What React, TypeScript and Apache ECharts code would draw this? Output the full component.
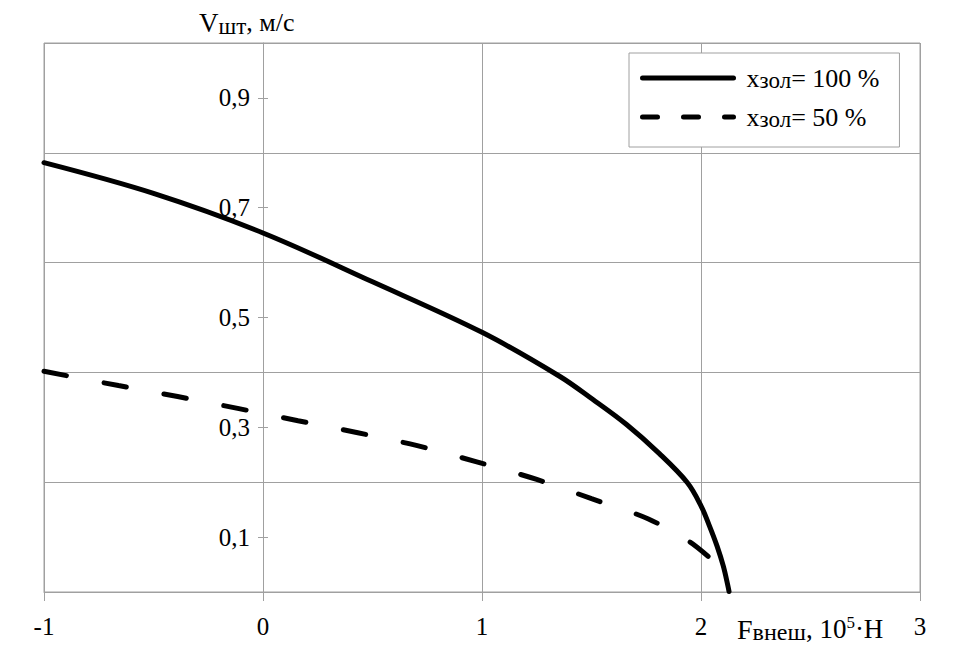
import React, { useEffect, useRef } from "react";
import * as echarts from "echarts";

// F (10^5 H) and V (m/s)
const solidF = [-1.0, -0.5, 0.0, 0.5, 1.0, 1.354, 1.505, 1.66, 1.81, 1.938, 2.0, 2.038, 2.073, 2.102, 2.123, 2.128];
const solidV = [0.782, 0.726, 0.654, 0.565, 0.473, 0.393, 0.351, 0.305, 0.252, 0.199, 0.157, 0.121, 0.084, 0.047, 0.011, 0.001];
const dashF = [-1.0, -0.66, -0.39, -0.11, 0.16, 0.433, 0.7, 0.976, 1.25, 1.5, 1.76, 1.95, 2.035];
const dashV = [0.402, 0.376, 0.356, 0.334, 0.312, 0.29, 0.267, 0.237, 0.205, 0.17, 0.133, 0.091, 0.064];
const legendValues = ["100 %", "50 %"];
const seriesNames = legendValues.map((v) => "xзол= " + v);

const FONT = '"Liberation Serif", "Times New Roman", serif';
const GRID = "#a0a0a0";
const W = 957;
const H = 666;
const LEFT = 44;
const RIGHT = 37;

export default function App() {
  const ref = useRef<HTMLDivElement>(null);
  useEffect(() => {
    if (!ref.current) return;
    const chart = echarts.init(ref.current, undefined, { renderer: "svg" });
    const pairs = (xs: number[], ys: number[]) => xs.map((x, i) => [x, ys[i]]);
    const xMin = -1;
    const xMax = 3;
    const yAxisShift = ((0 - xMin) / (xMax - xMin)) * (W - LEFT - RIGHT);
    chart.setOption({
      animation: false,
      backgroundColor: "#fff",
      grid: {
        left: LEFT,
        right: RIGHT,
        top: 43,
        bottom: 74,
        show: true,
        borderColor: GRID,
        borderWidth: 1,
      },
      xAxis: {
        type: "value",
        min: xMin,
        max: xMax,
        interval: 1,
        axisLine: { show: true, lineStyle: { color: GRID, width: 1 } },
        axisTick: { show: true, length: 9, lineStyle: { color: GRID } },
        axisLabel: { color: "#000", fontSize: 25, fontFamily: FONT, margin: 22 },
        splitLine: { show: true, lineStyle: { color: GRID, width: 1 } },
      },
      yAxis: [
        {
          type: "value",
          min: 0,
          max: 1,
          interval: 0.1,
          offset: -yAxisShift,
          axisLine: { show: true, onZero: false, lineStyle: { color: GRID, width: 1 } },
          axisTick: { show: true, length: 5, lineStyle: { color: GRID } },
          axisLabel: {
            color: "#000",
            fontSize: 25,
            fontFamily: FONT,
            margin: 13,
            formatter: (v: number) => {
              const k = Math.round(v * 10);
              return k % 2 === 1 ? (k / 10).toFixed(1).replace(".", ",") : "";
            },
          },
          splitLine: { show: false },
        },
        {
          type: "value",
          min: 0,
          max: 1,
          interval: 0.2,
          position: "left",
          axisLine: { show: false, onZero: false },
          axisTick: { show: false },
          axisLabel: { show: false },
          splitLine: { show: true, lineStyle: { color: GRID, width: 1 } },
        },
        {
          type: "value",
          min: 0,
          max: 1,
          interval: 0.1,
          position: "left",
          offset: -yAxisShift,
          axisLine: { show: false, onZero: false },
          axisTick: { show: true, inside: true, length: 5, lineStyle: { color: GRID } },
          axisLabel: { show: false },
          splitLine: { show: false },
        },
      ],
      legend: {
        orient: "vertical",
        left: 629,
        top: 53,
        padding: [12, 20, 16, 11],
        itemGap: 12,
        itemWidth: 91,
        itemHeight: 14,
        borderColor: GRID,
        borderWidth: 1,
        backgroundColor: "#fff",
        itemStyle: { opacity: 0 },
        lineStyle: { width: 5 },
        data: [
          { name: seriesNames[0], lineStyle: { width: 5, type: "solid", color: "#000" } },
          { name: seriesNames[1], lineStyle: { width: 5, type: [15, 26], cap: "round", color: "#000" } },
        ],
        formatter: (name: string) => {
          const v = name.replace("xзол= ", "");
          return "{x|x}{s|зол}{t|= " + v + "}";
        },
        textStyle: {
          color: "#000",
          fontFamily: FONT,
          fontSize: 25,
          rich: {
            x: { fontSize: 26, fontFamily: FONT, lineHeight: 28, verticalAlign: "middle", padding: [0, 0, 0, 8] },
            s: { fontSize: 23, fontFamily: FONT, lineHeight: 16, verticalAlign: "bottom" },
            t: { fontSize: 26, fontFamily: FONT, lineHeight: 28, verticalAlign: "middle" },
          },
        },
      },
      graphic: [
        {
          type: "text",
          left: 199,
          top: 9,
          style: {
            text: "{v|V}{s|шт}{t|, м/с}",
            fill: "#000",
            rich: {
              v: { fontSize: 27, fontFamily: FONT, lineHeight: 30, verticalAlign: "middle" },
              s: { fontSize: 23, fontFamily: FONT, lineHeight: 18, verticalAlign: "bottom" },
              t: { fontSize: 26, fontFamily: FONT, lineHeight: 30, verticalAlign: "middle" },
            },
          },
        },
        {
          type: "text",
          left: 737,
          top: 614,
          style: {
            text: "{v|F}{s|внеш}{t|, 10}{p|5}{t|·H}",
            fill: "#000",
            rich: {
              v: { fontSize: 28, fontFamily: FONT, lineHeight: 30, verticalAlign: "middle" },
              s: { fontSize: 24, fontFamily: FONT, lineHeight: 18, verticalAlign: "bottom" },
              t: { fontSize: 27, fontFamily: FONT, lineHeight: 30, verticalAlign: "middle" },
              p: { fontSize: 17, fontFamily: FONT, lineHeight: 20, verticalAlign: "top" },
            },
          },
        },
      ],
      series: [
        {
          name: seriesNames[0],
          type: "line",
          yAxisIndex: 0,
          data: pairs(solidF, solidV),
          smooth: 0.35,
          symbol: "none",
          clip: false,
          lineStyle: { color: "#000", width: 5, cap: "round", join: "round" },
          itemStyle: { color: "#000" },
        },
        {
          name: seriesNames[1],
          type: "line",
          yAxisIndex: 0,
          data: pairs(dashF, dashV),
          smooth: 0.3,
          symbol: "none",
          clip: false,
          lineStyle: { color: "#000", width: 5, type: [23, 38], cap: "round" },
          itemStyle: { color: "#000" },
        },
      ],
    });
    return () => chart.dispose();
  }, []);
  return <div ref={ref} style={{ position: "fixed", left: 0, top: 0, width: W, height: H }} />;
}
